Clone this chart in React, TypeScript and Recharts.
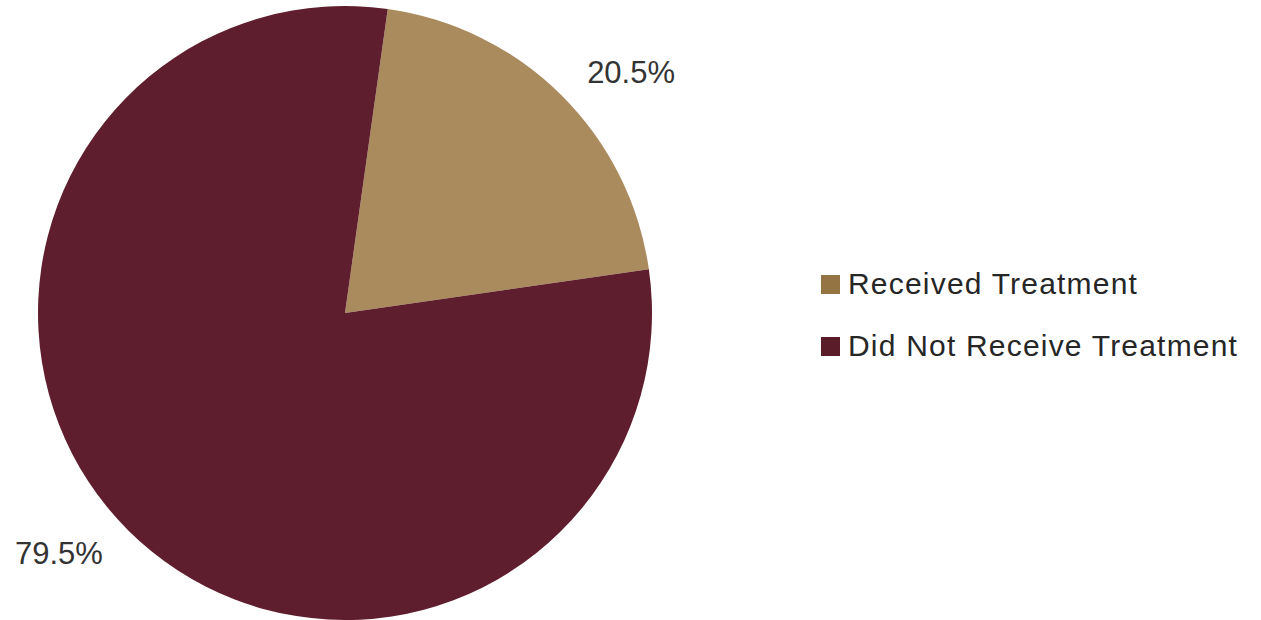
import { PieChart, Pie, Cell, Legend } from 'recharts';

// values
const groups = ['Received Treatment', 'Did Not Receive Treatment'];
const shares = [20.5, 79.5];
const sliceColors = ['#AA8B5E', '#5F1E2D'];
const swatchColors = ['#947443', '#5A1C28'];

const chartData = groups.map((name, i) => ({ name, value: shares[i] }));

const RADIAN = Math.PI / 180;

// Excel-style outside labels, pushed a bit off the slice middle
const renderLabel = (props: any) => {
  const { cx, cy, midAngle, outerRadius, value } = props;
  const angle = (midAngle - 5) * RADIAN;
  const r = outerRadius + 67;
  const x = cx + r * Math.cos(-angle);
  const y = cy + r * Math.sin(-angle);
  return (
    <text
      x={x}
      y={y}
      textAnchor="middle"
      dominantBaseline="central"
      fill="#333333"
      fontSize={31}
      fontFamily="'Liberation Sans', Arial, sans-serif"
    >
      {`${Number(value).toFixed(1)}%`}
    </text>
  );
};

const renderLegend = () => (
  <div style={{ fontFamily: "'Liberation Sans', Arial, sans-serif" }}>
    {groups.map((g, i) => (
      <div
        key={g}
        style={{ display: 'flex', alignItems: 'center', height: 62 }}
      >
        <span
          style={{
            display: 'inline-block',
            width: 19,
            height: 19,
            background: swatchColors[i],
            marginRight: 8,
          }}
        />
        <span style={{ fontSize: 30, color: '#262626', letterSpacing: 1.2, whiteSpace: 'nowrap' }}>
          {g}
        </span>
      </div>
    ))}
  </div>
);

export default function App() {
  return (
    <div style={{ position: 'absolute', left: 0, top: 0, background: '#fff' }}>
      <PieChart width={1261} height={620} margin={{ top: 0, right: 0, bottom: 0, left: 0 }}>
        <Pie
          data={chartData}
          dataKey="value"
          cx={345}
          cy={313}
          outerRadius={307}
          startAngle={82}
          endAngle={-278}
          stroke="none"
          label={renderLabel}
          labelLine={false}
          isAnimationActive={false}
        >
          {chartData.map((entry, index) => (
            <Cell key={entry.name} fill={sliceColors[index]} />
          ))}
        </Pie>
        <Legend
          content={renderLegend}
          layout="vertical"
          wrapperStyle={{ position: 'absolute', left: 821, top: 253, width: 440 }}
        />
      </PieChart>
    </div>
  );
}
